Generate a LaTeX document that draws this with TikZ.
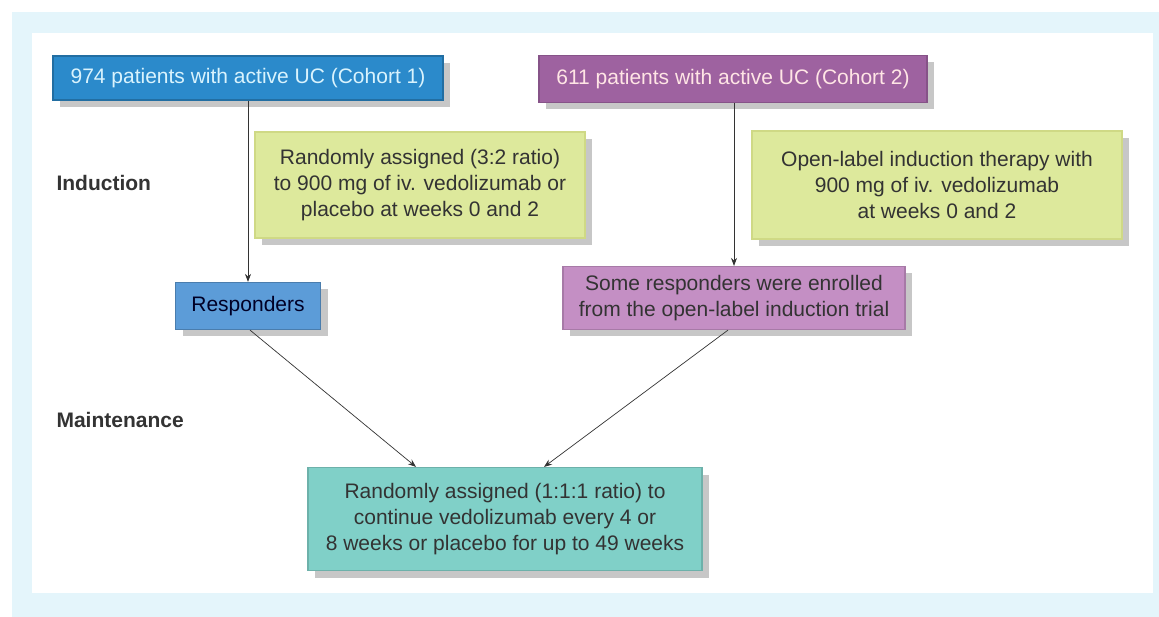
\documentclass[tikz,border=0pt]{standalone}
\usepackage{fontspec}
\setmainfont{Liberation Sans}
\usetikzlibrary{positioning,arrows.meta,shadows}

\definecolor{bandblue}{HTML}{E4F5FB}
\definecolor{cohortblue}{HTML}{2B8ACB}
\definecolor{cohortpurple}{HTML}{9E62A0}
\definecolor{armgreen}{HTML}{DDE99C}
\definecolor{respblue}{HTML}{5C9CD8}
\definecolor{resppurple}{HTML}{C48FC4}
\definecolor{mainteal}{HTML}{80D0C8}

\tikzset{
  box/.style={draw, line width=1.2pt, align=center, inner sep=0pt,
    font=\fontsize{21}{26}\selectfont,
    drop shadow={shadow xshift=7pt, shadow yshift=-7pt, fill=black!22, opacity=1}},
  cohort/.style={box, text=white!85!cyan},
  arrow/.style={-{Stealth[length=8pt,width=6pt]}, line width=0.7pt, black!80},
  phase/.style={anchor=west, font=\fontsize{21}{24}\selectfont\bfseries, text=black!80}
}

\begin{document}
\begin{tikzpicture}[x=1pt,y=-1pt]
  \useasboundingbox (0,0) rectangle (1159,617);
  % background frame
  \fill[bandblue] (12,12) rectangle (1159,617);
  \fill[white] (32,33) rectangle (1153,593);

  % cohorts
  \node[cohort, fill=cohortblue, draw=cohortblue!80!black,
    minimum width=390pt, minimum height=44pt] (c1) at (248,78)
    {974 patients with active UC (Cohort 1)};
  \node[cohort, fill=cohortpurple, draw=cohortpurple!85!black, text=pink!40!white,
    minimum width=388pt, minimum height=47pt] (c2) at (733,79)
    {611 patients with active UC (Cohort 2)};

  % induction arms
  \node[box, fill=armgreen, draw=armgreen!85!olive, text=black!80,
    minimum width=330pt, minimum height=106pt] (ind1) at (420,185)
    {Randomly assigned (3:2 ratio)\\ to 900 mg of iv. vedolizumab or\\ placebo at weeks 0 and 2};
  \node[box, fill=armgreen, draw=armgreen!85!olive, text=black!80,
    minimum width=370pt, minimum height=108pt] (ind2) at (937,185)
    {Open-label induction therapy with\\ 900 mg of iv. vedolizumab\\ at weeks 0 and 2};

  % responders
  \node[box, fill=respblue, draw=respblue!80!black, text=black!85!blue,
    minimum width=145pt, minimum height=47pt] (resp) at (248,306) {Responders};
  \node[box, fill=resppurple, draw=resppurple!85!black, text=black!80,
    minimum width=342pt, minimum height=63pt] (enr) at (734,298)
    {Some responders were enrolled\\ from the open-label induction trial};

  % maintenance
  \node[box, fill=mainteal, draw=mainteal!85!black, text=black!80,
    minimum width=394pt, minimum height=103pt] (maint) at (505,519)
    {Randomly assigned (1:1:1 ratio) to\\ continue vedolizumab every 4 or\\ 8 weeks or placebo for up to 49 weeks};

  \node[phase] (lbind) at (53,183) {Induction};
  \node[phase] (lbmaint) at (53,420) {Maintenance};

  \draw[arrow] (c1) -- (resp);
  \draw[arrow] (c2.south -| enr.north) -- (enr);
  \draw[arrow] ([xshift=2pt]resp.south) -- ([xshift=-89pt]maint.north);
  \draw[arrow] ([xshift=-6pt]enr.south) -- ([xshift=39pt]maint.north);
\end{tikzpicture}
\end{document}
